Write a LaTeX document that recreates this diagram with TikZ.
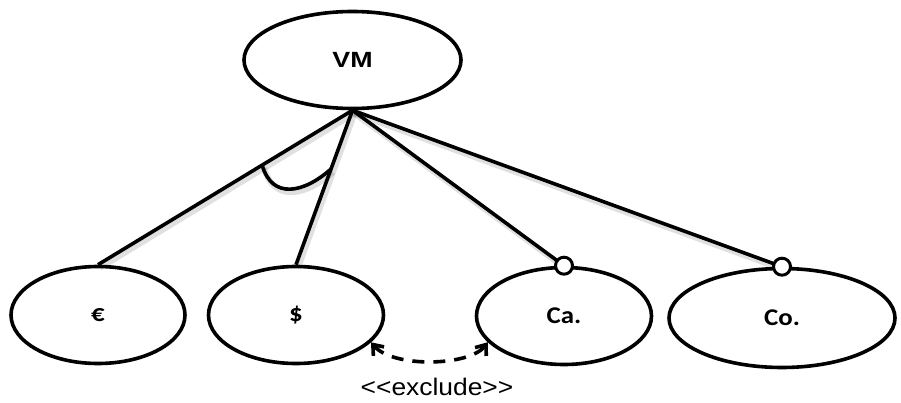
\documentclass[tikz,border=0pt]{standalone}
\usepackage{fontspec}
\usepackage{graphicx}
\newfontfamily\lsans{Liberation Sans}
\newfontfamily\carl{Carlito}
\usetikzlibrary{shapes.geometric,arrows.meta,calc}

% wide, bold labels
\newcommand\rootname[1]{\scalebox{1.22}[1]{\lsans\bfseries\fontsize{22}{26}\selectfont #1}}
\newcommand\leafname[1]{\scalebox{1.12}[1]{\carl\bfseries\fontsize{24}{28}\selectfont #1}}
\newcommand\stereo[1]{\scalebox{1.1}[1]{\lsans\fontsize{24}{28}\selectfont #1}}

\tikzset{
  feature/.style={ellipse, draw, line width=3.6pt, inner sep=0pt,
    minimum width=#1, minimum height=97pt},
  softshadow/.style={preaction={draw, line width=6pt, black, opacity=0.12,
    transform canvas={shift={(2pt,-3pt)}}}},
  branch/.style={line width=3.6pt, softshadow},
  optdot/.style={circle, draw, fill=white, line width=3pt, inner sep=0pt,
    minimum width=17pt, minimum height=13pt},
  exclude/.style={line width=3.6pt, dash pattern=on 12pt off 9pt,
    {Straight Barb[length=9pt,width=14pt,line width=3.6pt]}-{Straight Barb[length=9pt,width=14pt,line width=3.6pt]}},
}

\begin{document}
\begin{tikzpicture}[x=1pt,y=-1pt]
  \useasboundingbox (0,0) rectangle (901,403);

  % root and child features
  \node[feature=217pt] (vm) at (352.5,60) {\rootname{VM}};
  \node[feature=174pt] (eur) at (98,315) {\leafname{€}};
  \node[feature=175pt] (usd) at (296,315) {\leafname{\$}};
  \node[feature=175pt] (ca) at (564,316) {\leafname{Ca.}};
  \node[feature=226pt, minimum height=99pt] (co) at (782,318) {\leafname{Co.}};

  \coordinate (apex) at (vm.south);

  % mandatory alternative branches
  \draw[branch] (apex) -- (eur.north);
  \draw[branch] (apex) -- (usd.north);
  \coordinate (altL) at ($(apex)!0.355!(eur.north)$);
  \coordinate (altR) at ($(apex)!0.38!(usd.north)$);
  \draw[branch] (altL) .. controls +(10,35) and +(-27,24) .. (altR);

  % optional branches
  \draw[branch] (apex) -- (ca.north);
  \draw[branch] (apex) -- (co.north);
  \node[optdot] (cadot) at (ca.north) {};
  \node[optdot] (codot) at (co.north) {};

  % exclusion constraint
  \coordinate (exA) at (ca.199);
  \coordinate (exB) at (usd.-20);
  \draw[exclude] (exB) .. controls +(22,26) and +(-18,24) .. (exA);
  \node (exlabel) at (437,387) {\stereo{<{}<exclude>{}>}};
\end{tikzpicture}
\end{document}
